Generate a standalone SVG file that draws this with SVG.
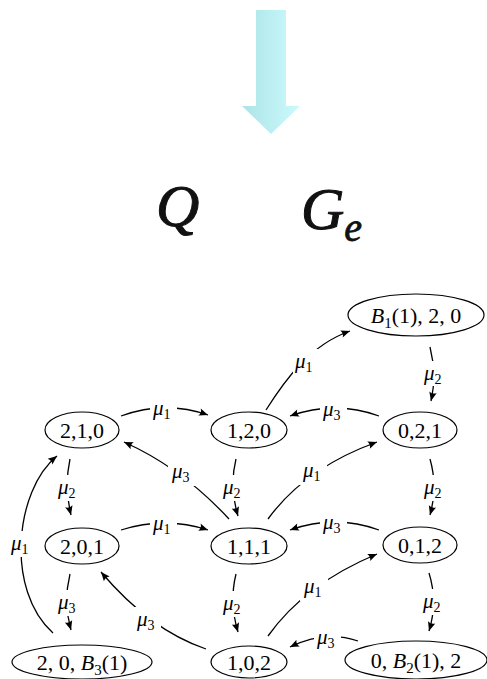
<svg xmlns="http://www.w3.org/2000/svg" width="487" height="679" viewBox="0 0 487 679">
<defs>
<linearGradient id="ag" x1="0" y1="0" x2="1" y2="0">
<stop offset="0" stop-color="#acE4e8"/>
<stop offset="1" stop-color="#ccfafc"/>
</linearGradient>
<marker id="ah" markerWidth="12" markerHeight="10" viewBox="-10 -5 12 10" refX="0" refY="0" orient="auto" markerUnits="userSpaceOnUse">
<path d="M0,0 L-9,-3.8 Q-6.5,0 -9,3.8 Z" fill="#000"/>
</marker>
</defs>
<style>
.node ellipse{fill:#fff;stroke:#000;stroke-width:1.2}
.node text{font-family:'Liberation Serif','Times New Roman',serif;font-size:22px;text-anchor:middle;fill:#000}
.it{font-style:italic}
.sub{font-size:15px}
#edges path{fill:none;stroke:#000;stroke-width:1.3;marker-end:url(#ah)}
#edges rect{fill:#fff;stroke:none}
#edges text{font-family:'Liberation Serif','Times New Roman',serif;font-size:21px;font-style:italic;fill:#000}
#edges text tspan.s{font-size:14px;font-style:normal}
.big{font-family:'Liberation Serif','Times New Roman',serif;font-style:italic;fill:#111;stroke:#111;stroke-width:1}
</style>
<rect width="487" height="679" fill="#fff"/>
<g id="bigarrow">
<polygon points="256,10 286,10 286,106 300,106 271,134 242,106 256,106" fill="url(#ag)"/>
</g>
<g id="title">
<text class="big" x="156" y="226" font-size="60">Q</text>
<text class="big" x="301" y="229" font-size="60">G<tspan font-size="40" dy="12" stroke-width="0.8">e</tspan></text>
</g>
<g id="edges">
<path d="M266,410 C285,380 310,345 350,331"/>
<rect x="293" y="349" width="26" height="25"/>
<text x="295" y="368">μ<tspan class="s" dy="4">1</tspan></text>
<path d="M430,347 Q437,375 431,401"/>
<rect x="422" y="361" width="26" height="25"/>
<text x="424" y="380">μ<tspan class="s" dy="4">2</tspan></text>
<path d="M121,416 Q165,400 208,415"/>
<rect x="150" y="397" width="27" height="24"/>
<text x="153" y="415">μ<tspan class="s" dy="4">1</tspan></text>
<path d="M379,416 Q335,400 290,416"/>
<rect x="320" y="398" width="27" height="24"/>
<text x="323" y="416">μ<tspan class="s" dy="4">3</tspan></text>
<path d="M229,519 Q182,468 124,442"/>
<rect x="168" y="459" width="28" height="27"/>
<text x="172" y="478">μ<tspan class="s" dy="4">3</tspan></text>
<path d="M268,519 Q305,468 377,442"/>
<rect x="299" y="458" width="28" height="27"/>
<text x="303" y="477">μ<tspan class="s" dy="4">1</tspan></text>
<path d="M70,459 Q64,487 71,515"/>
<rect x="55" y="475" width="26" height="26"/>
<text x="58" y="494">μ<tspan class="s" dy="4">2</tspan></text>
<path d="M236,459 Q229,487 238,516"/>
<rect x="220" y="475" width="26" height="26"/>
<text x="223" y="494">μ<tspan class="s" dy="4">2</tspan></text>
<path d="M430,459 Q438,487 430,515"/>
<rect x="421" y="475" width="26" height="26"/>
<text x="424" y="494">μ<tspan class="s" dy="4">2</tspan></text>
<path d="M121,530 Q165,516 208,530"/>
<rect x="150" y="512" width="27" height="24"/>
<text x="153" y="530">μ<tspan class="s" dy="4">1</tspan></text>
<path d="M379,530 Q335,514 290,530"/>
<rect x="320" y="511" width="27" height="24"/>
<text x="323" y="529">μ<tspan class="s" dy="4">3</tspan></text>
<path d="M53,633 C5,590 15,490 57,456"/>
<rect x="8" y="531" width="27" height="26"/>
<text x="11" y="550">μ<tspan class="s" dy="4">1</tspan></text>
<path d="M70,574 Q63,602 71,630"/>
<rect x="55" y="590" width="26" height="26"/>
<text x="58" y="609">μ<tspan class="s" dy="4">3</tspan></text>
<path d="M206,649 Q150,630 101,572"/>
<rect x="133" y="607" width="28" height="27"/>
<text x="137" y="626">μ<tspan class="s" dy="4">3</tspan></text>
<path d="M236,574 Q229,602 238,632"/>
<rect x="220" y="591" width="26" height="26"/>
<text x="223" y="610">μ<tspan class="s" dy="4">2</tspan></text>
<path d="M268,636 Q305,584 377,554"/>
<rect x="300" y="574" width="28" height="27"/>
<text x="304" y="593">μ<tspan class="s" dy="4">1</tspan></text>
<path d="M429,573 Q438,602 429,631"/>
<rect x="420" y="589" width="26" height="26"/>
<text x="423" y="608">μ<tspan class="s" dy="4">2</tspan></text>
<path d="M358,641 Q325,630 290,647"/>
<rect x="314" y="625" width="27" height="24"/>
<text x="317" y="644">μ<tspan class="s" dy="4">3</tspan></text>
</g>
<g id="n-B120" class="node">
<ellipse cx="416" cy="315" rx="68" ry="21"/>
<text x="416" y="323"><tspan class="it">B</tspan><tspan class="sub" dy="5">1</tspan><tspan dy="-5">(1), 2, 0</tspan></text>
</g>
<g id="n-210" class="node">
<ellipse cx="82" cy="430" rx="37" ry="18"/>
<text x="82" y="438">2,1,0</text>
</g>
<g id="n-120" class="node">
<ellipse cx="249" cy="430" rx="38" ry="18"/>
<text x="249" y="438">1,2,0</text>
</g>
<g id="n-021" class="node">
<ellipse cx="420" cy="430" rx="37" ry="18"/>
<text x="420" y="438">0,2,1</text>
</g>
<g id="n-201" class="node">
<ellipse cx="82" cy="546" rx="37" ry="18"/>
<text x="82" y="554">2,0,1</text>
</g>
<g id="n-111" class="node">
<ellipse cx="249" cy="546" rx="38" ry="18"/>
<text x="249" y="554">1,1,1</text>
</g>
<g id="n-012" class="node">
<ellipse cx="420" cy="545" rx="37" ry="18"/>
<text x="420" y="553">0,1,2</text>
</g>
<g id="n-20B3" class="node">
<ellipse cx="82" cy="662" rx="70" ry="17"/>
<text x="82" y="670">2, 0, <tspan class="it">B</tspan><tspan class="sub" dy="5">3</tspan><tspan dy="-5">(1)</tspan></text>
</g>
<g id="n-102" class="node">
<ellipse cx="249" cy="662" rx="38" ry="16"/>
<text x="249" y="670">1,0,2</text>
</g>
<g id="n-0B22" class="node">
<ellipse cx="416" cy="660" rx="71" ry="19"/>
<text x="416" y="668">0, <tspan class="it">B</tspan><tspan class="sub" dy="5">2</tspan><tspan dy="-5">(1), 2</tspan></text>
</g>
</svg>
